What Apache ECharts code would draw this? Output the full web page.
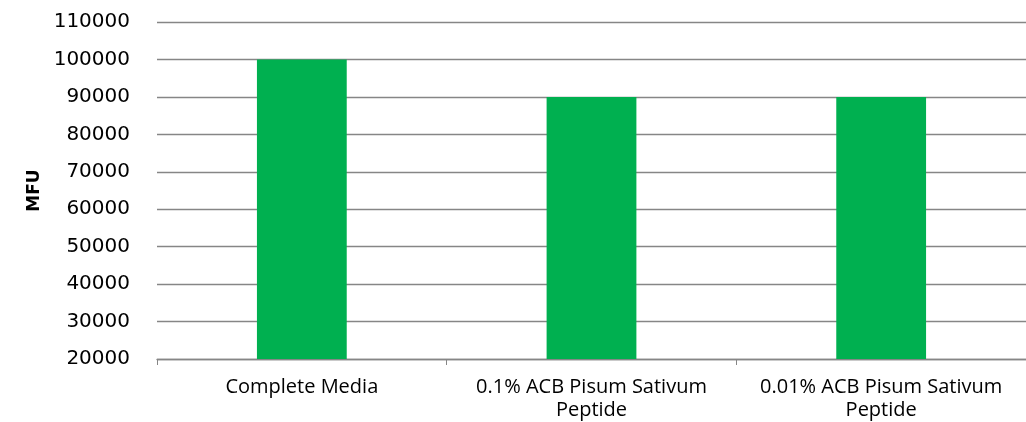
<!DOCTYPE html>
<html>
<head>
<meta charset="utf-8">
<script src="https://cdn.jsdelivr.net/npm/echarts@6/dist/echarts.min.js"></script>
<style>
html, body { margin: 0; padding: 0; background: #fff; }
#chart { width: 1026px; height: 422px; }
</style>
</head>
<body>
<div id="chart"></div>
<script>
var categories = ['Complete Media', '0.1% ACB Pisum Sativum\nPeptide', '0.01% ACB Pisum Sativum\nPeptide'];
var mfuValues = [100000, 90000, 90000];
var yMin = 20000, yMax = 110000, yStep = 10000;

var myChart = echarts.init(document.getElementById('chart'));
var option = {
    animation: false,
    grid: { left: 157, right: 0, top: 22, bottom: 62 },
    xAxis: {
        type: 'category',
        data: categories,
        axisLine: { lineStyle: { color: '#868686', width: 1.3 } },
        axisTick: { show: true, length: 6, lineStyle: { color: '#868686' } },
        axisLabel: {
            color: '#000',
            fontFamily: 'Open Sans',
            fontSize: 20,
            lineHeight: 23,
            margin: 17,
            interval: 0
        }
    },
    yAxis: {
        type: 'value',
        min: yMin,
        max: yMax,
        interval: yStep,
        name: 'MFU',
        nameLocation: 'middle',
        nameGap: 106,
        nameRotate: 90,
        nameTextStyle: { fontFamily: 'DejaVu Sans', fontWeight: 'bold', fontSize: 17, color: '#000' },
        axisLine: { show: false },
        axisTick: { show: false },
        splitLine: { lineStyle: { color: '#868686', width: 1.3 } },
        axisLabel: {
            color: '#000',
            fontFamily: 'DejaVu Sans',
            fontSize: 20,
            margin: 27,
            formatter: function (v) { return String(v); }
        }
    },
    series: [
        {
            name: 'MFU',
            type: 'bar',
            data: mfuValues,
            barWidth: '31%',
            itemStyle: { color: '#00B050' }
        }
    ]
};
myChart.setOption(option);
</script>
</body>
</html>
